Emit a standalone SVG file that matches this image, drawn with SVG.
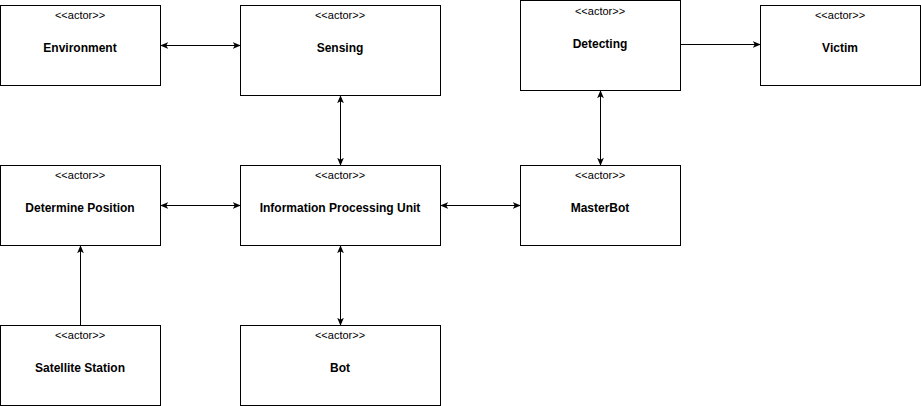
<svg xmlns="http://www.w3.org/2000/svg" width="921" height="406" viewBox="0 0 921 406">
<style>
.box{fill:#fff;stroke:#000;stroke-width:1}
.st{font-family:"Liberation Sans",Arial,sans-serif;font-size:11px;fill:#000;text-anchor:middle}
.lb{font-family:"Liberation Sans",Arial,sans-serif;font-size:12px;font-weight:bold;fill:#000;text-anchor:middle}
.edge{stroke:#000;stroke-width:1;fill:none}
</style>
<defs>
<marker id="ah" viewBox="0 0 10 10" refX="9" refY="5" markerWidth="8" markerHeight="8" orient="auto-start-reverse" markerUnits="userSpaceOnUse">
<path d="M0,0.8 L10,5 L0,9.2 L2.5,5 Z" fill="#000"/>
</marker>
</defs>
<rect width="921" height="406" fill="#fff"/>
<g id="connectors">
<line class="edge" x1="161" y1="45.5" x2="240" y2="45.5" marker-start="url(#ah)" marker-end="url(#ah)"/>
<line class="edge" x1="340.5" y1="96" x2="340.5" y2="165" marker-start="url(#ah)" marker-end="url(#ah)"/>
<line class="edge" x1="681" y1="44.5" x2="760" y2="44.5" marker-end="url(#ah)"/>
<line class="edge" x1="600.5" y1="91" x2="600.5" y2="165" marker-start="url(#ah)" marker-end="url(#ah)"/>
<line class="edge" x1="161" y1="205.5" x2="240" y2="205.5" marker-start="url(#ah)" marker-end="url(#ah)"/>
<line class="edge" x1="441" y1="205.5" x2="520" y2="205.5" marker-start="url(#ah)" marker-end="url(#ah)"/>
<line class="edge" x1="80.5" y1="325" x2="80.5" y2="246" marker-end="url(#ah)"/>
<line class="edge" x1="340.5" y1="246" x2="340.5" y2="325" marker-start="url(#ah)" marker-end="url(#ah)"/>
</g>
<g id="environment"><rect class="box" x="0.5" y="5.5" width="160" height="80"/><text class="st" x="80" y="19">&lt;&lt;actor&gt;&gt;</text><text class="lb" x="80" y="52">Environment</text></g>
<g id="sensing"><rect class="box" x="240.5" y="5.5" width="200" height="90"/><text class="st" x="340" y="19">&lt;&lt;actor&gt;&gt;</text><text class="lb" x="340" y="52">Sensing</text></g>
<g id="detecting"><rect class="box" x="520.5" y="0.5" width="160" height="90"/><text class="st" x="600" y="15">&lt;&lt;actor&gt;&gt;</text><text class="lb" x="600" y="48">Detecting</text></g>
<g id="victim"><rect class="box" x="760.5" y="5.5" width="160" height="80"/><text class="st" x="840" y="19">&lt;&lt;actor&gt;&gt;</text><text class="lb" x="840" y="52">Victim</text></g>
<g id="determine-position"><rect class="box" x="0.5" y="165.5" width="160" height="80"/><text class="st" x="80" y="179">&lt;&lt;actor&gt;&gt;</text><text class="lb" x="80" y="212">Determine Position</text></g>
<g id="ipu"><rect class="box" x="240.5" y="165.5" width="200" height="80"/><text class="st" x="340" y="179">&lt;&lt;actor&gt;&gt;</text><text class="lb" x="340" y="212">Information Processing Unit</text></g>
<g id="masterbot"><rect class="box" x="520.5" y="165.5" width="160" height="80"/><text class="st" x="600" y="179">&lt;&lt;actor&gt;&gt;</text><text class="lb" x="600" y="212">MasterBot</text></g>
<g id="satellite-station"><rect class="box" x="0.5" y="325.5" width="160" height="80"/><text class="st" x="80" y="339">&lt;&lt;actor&gt;&gt;</text><text class="lb" x="80" y="372">Satellite Station</text></g>
<g id="bot"><rect class="box" x="240.5" y="325.5" width="200" height="80"/><text class="st" x="340" y="339">&lt;&lt;actor&gt;&gt;</text><text class="lb" x="340" y="372">Bot</text></g>
</svg>
